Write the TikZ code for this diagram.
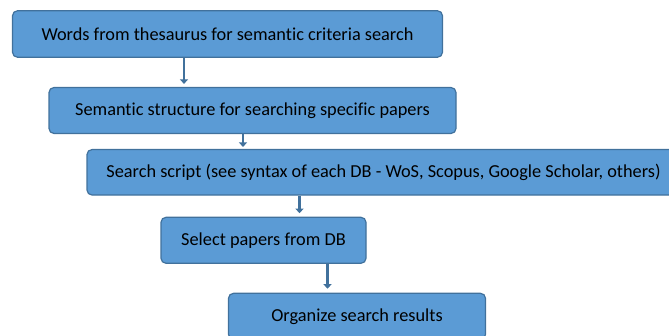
\documentclass[tikz,border=0pt]{standalone}
\usepackage{fontspec}
\setmainfont[Ligatures={NoCommon}]{Carlito}
\usetikzlibrary{arrows.meta}
\definecolor{boxfill}{HTML}{5B9BD5}
\definecolor{boxline}{HTML}{41719C}
\begin{document}
\begin{tikzpicture}[x=1pt,y=-1pt,
  stepbox/.style={draw=boxline, fill=boxfill, line width=1.2pt, rounded corners=5pt,
    inner sep=0pt, font=\fontsize{18.3}{22}\selectfont, text=black},
  arr/.style={draw=boxline, line width=2.6pt,
    -{Triangle[width=8pt,length=4.5pt]}}]
\useasboundingbox (0,0) rectangle (669,336);
\clip (0,0) rectangle (669,336);
\node[stepbox, minimum width=430pt, minimum height=46.5pt] (b1) at (227.5,34) {Words from thesaurus for semantic criteria search};
\node[stepbox, minimum width=407pt, minimum height=46pt] (b2) at (252.5,110.5) {Semantic structure for searching specific papers};
\node[stepbox, minimum width=593pt, minimum height=45.5pt] (b3) at (383.5,172.3) {Search script (see syntax of each DB - WoS, Scopus, Google Scholar, others)};
\node[stepbox, minimum width=205pt, minimum height=46pt] (b4) at (263.5,240.3) {Select papers from DB};
\node[stepbox, minimum width=257pt, minimum height=46pt] (b5) at (357,316.3) {Organize search results};
\coordinate (x1) at (184,0);
\coordinate (x2) at (243,0);
\coordinate (x3) at (299.5,0);
\coordinate (x4) at (327.5,0);
\draw[arr] (b1.south -| x1) -- ([yshift=3pt]b2.north -| x1);
\draw[arr] (b2.south -| x2) -- ([yshift=2pt]b3.north -| x2);
\draw[arr] (b3.south -| x3) -- ([yshift=3.5pt]b4.north -| x3);
\draw[arr] (b4.south -| x4) -- ([yshift=4pt]b5.north -| x4);
\end{tikzpicture}
\end{document}
